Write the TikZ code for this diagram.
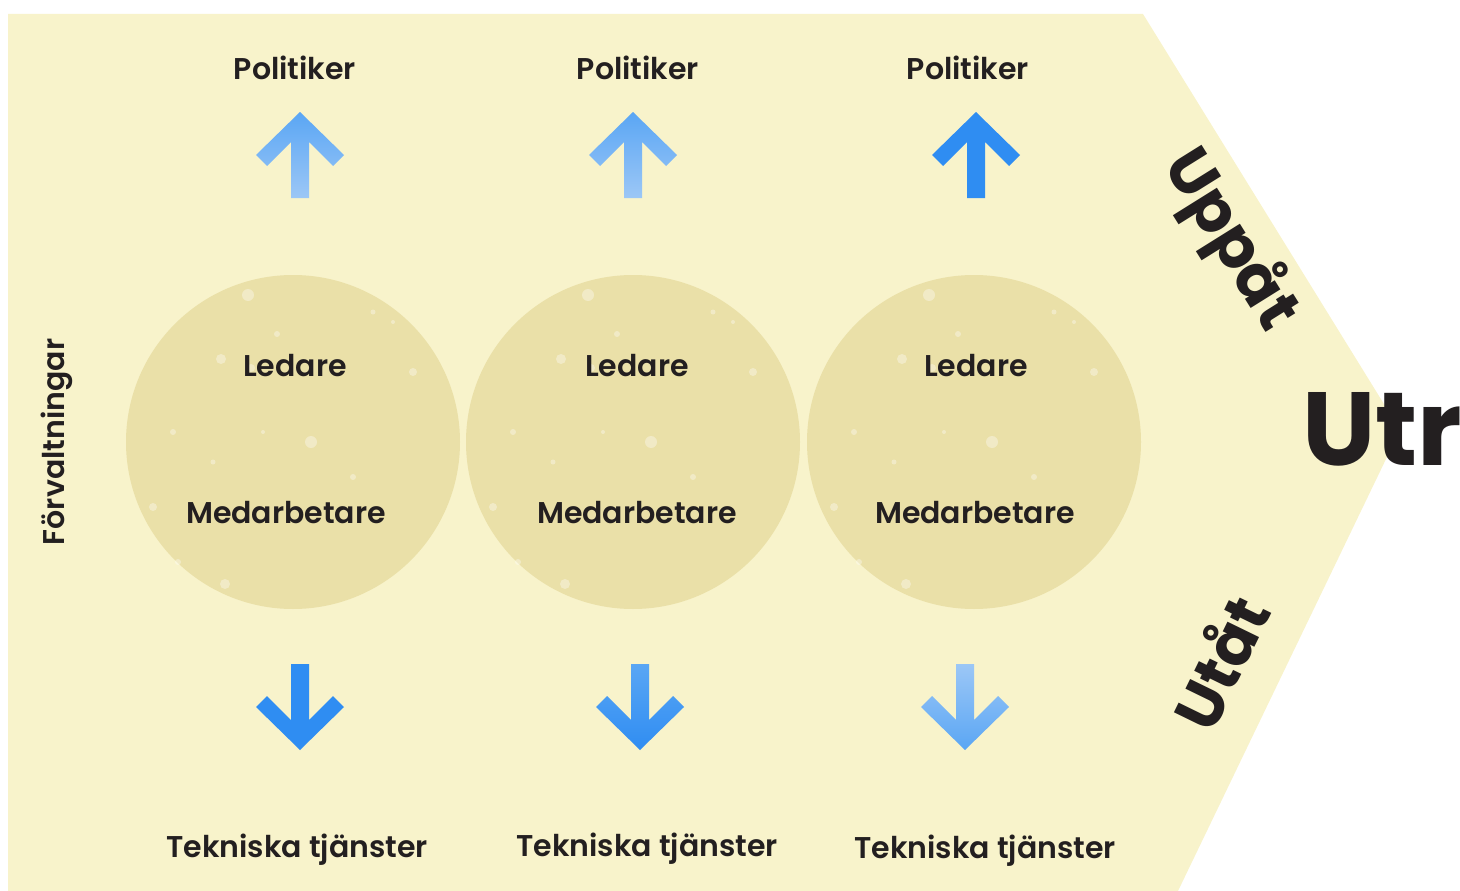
\documentclass[tikz,border=0pt]{standalone}
\usepackage{fontspec}
\setmainfont{Poppins}
\newfontfamily\labelfont{Poppins SemiBold}
\definecolor{paper}{HTML}{F8F3CB}
\definecolor{disc}{HTML}{EAE0A8}
\definecolor{ink}{HTML}{231F20}
\definecolor{blueA}{HTML}{2F8DF2}
\definecolor{blueB}{HTML}{5AA6F4}
\definecolor{blueC}{HTML}{9CC7F6}
\begin{document}
\begin{tikzpicture}[x=1pt,y=-1pt,
  lbl/.style={font=\labelfont\fontsize{30}{36}\selectfont, text=ink, inner sep=0pt, anchor=base},
  bigword/.style={font=\bfseries\fontsize{63}{70}\selectfont, text=ink, inner sep=0pt},
  disc/.style={circle, fill=disc, minimum size=334pt, inner sep=0pt},
  speck/.style={fill=white, opacity=0.35}]
\useasboundingbox (0,0) rectangle (1460,891);

% arrow-shaped panel
\fill[paper] (8,14) -- (1143,14) -- (1400,430) -- (1178,891) -- (8,891) -- cycle;

% up arrow outline (tip at origin, image coordinates with y downward)
\def\uparrowpath{(0,0) -- (44,43) -- (33,54) -- (9,30) -- (9,86) -- (-9,86) -- (-9,30) -- (-33,54) -- (-44,43) -- cycle}

% circles
\foreach \i/\cx in {1/293,2/633,3/974}{
  \node[disc] (c\i) at (\cx,442) {};
  \begin{scope}[shift={(\cx,442)}]
    \fill[speck] (-45,-147) circle (6);
    \fill[speck] (-72,-83) circle (5);
    \fill[speck] (-42,-74) circle (4);
    \fill[speck] (-16,-108) circle (3);
    \fill[speck] (120,-70) circle (4);
    \fill[speck] (18,0) circle (6);
    \fill[speck] (-120,-10) circle (3);
    \fill[speck] (-140,65) circle (4);
    \fill[speck] (-68,142) circle (5);
    \fill[speck] (-115,120) circle (3);
    \fill[speck] (80,-130) circle (2.5);
    \fill[speck] (60,35) circle (3);
    \fill[speck] (-30,-10) circle (2);
    \fill[speck] (100,-120) circle (2);
    \fill[speck] (-80,20) circle (2.5);
  \end{scope}
}

% labels
\foreach \i/\x in {1/295,2/638,3/968}{
  \node[lbl] (pol\i) at (\x,80) {Politiker};
}
\foreach \i/\x in {1/295,2/637,3/976}{
  \node[lbl] (led\i) at (\x,376) {Ledare};
}
\foreach \i/\x in {1/286,2/637,3/975}{
  \node[lbl] (med\i) at (\x,523) {Medarbetare};
}
\node[lbl] (tek1) at (297,857) {Tekniska tjänster};
\node[lbl] (tek2) at (647,856) {Tekniska tjänster};
\node[lbl] (tek3) at (985,858) {Tekniska tjänster};

\node[lbl, anchor=base, rotate=90] (forv) at (64,442) {Förvaltningar};

% arrows upward
\path[top color=blueB, bottom color=blueC, shift={(300,112)}] \uparrowpath;
\path[top color=blueB, bottom color=blueC, shift={(633,112)}] \uparrowpath;
\path[fill=blueA, shift={(976,112)}] \uparrowpath;

% arrows downward
\path[fill=blueA, shift={(300,750)}, yscale=-1] \uparrowpath;
\path[top color=blueB, bottom color=blueA, shift={(640,750)}, yscale=-1] \uparrowpath;
\path[top color=blueC, bottom color=blueB, shift={(965,750)}, yscale=-1] \uparrowpath;

% words along the point of the panel
\node[bigword, rotate=-58] (upp) at (1230,240) {Uppåt};
\node[bigword, rotate=64] (uta) at (1219,662) {Utåt};
\node[font=\bfseries\fontsize{104}{110}\selectfont, text=ink, inner sep=0pt, anchor=base west] (utr) at (1302,465) {Utr};
\end{tikzpicture}
\end{document}
